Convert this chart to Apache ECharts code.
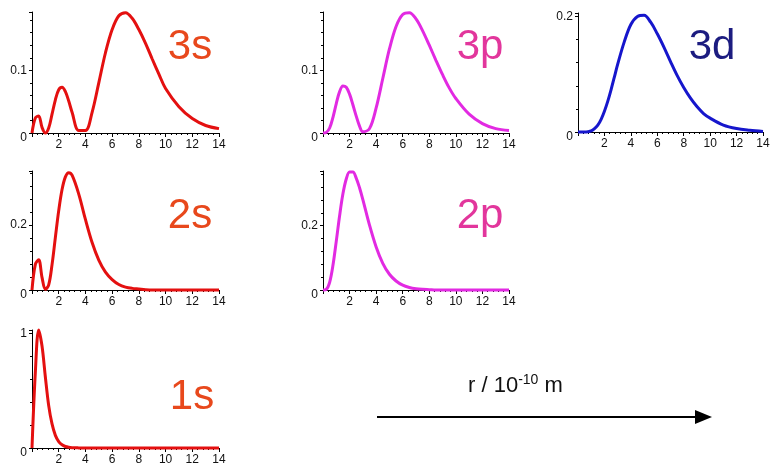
<!DOCTYPE html>
<html>
<head>
<meta charset="utf-8">
<title>Radial distributions</title>
<script src="https://cdn.jsdelivr.net/npm/echarts@6/dist/echarts.min.js"></script>
<style>
  html, body { margin: 0; padding: 0; background: #fff; }
  #chart { width: 773px; height: 467px; }
</style>
</head>
<body>
<div id="chart"></div>
<script>
// r in 10^-10 m
const rVals = [0, 0.25, 0.5, 0.75, 1, 1.25, 1.5, 1.75, 2, 2.25, 2.5, 2.75, 3, 3.5, 4, 4.5, 5, 5.5, 6, 6.5, 7, 7.5, 8, 8.5, 9, 9.5, 10, 11, 12, 13, 14]

// radial probability
const p1s = [0, 0.66, 1.03, 0.89, 0.62, 0.37, 0.21, 0.11, 0.056, 0.028, 0.013, 0.006, 0.003, 0.001, 0, 0, 0, 0, 0, 0, 0, 0, 0, 0, 0, 0, 0, 0, 0, 0, 0]
const p2s = [0, 0.079, 0.093, 0.039, 0.002, 0.016, 0.078, 0.162, 0.244, 0.309, 0.348, 0.361, 0.353, 0.295, 0.217, 0.146, 0.092, 0.055, 0.032, 0.017, 0.009, 0.005, 0.003, 0.001, 0, 0, 0, 0, 0, 0, 0]
const p2p = [0, 0.002, 0.024, 0.077, 0.152, 0.231, 0.299, 0.345, 0.367, 0.367, 0.348, 0.318, 0.281, 0.202, 0.134, 0.083, 0.049, 0.028, 0.015, 0.008, 0.004, 0.002, 0.001, 0, 0, 0, 0, 0, 0, 0, 0]
const p3s = [0, 0.024, 0.027, 0.009, 0, 0.008, 0.030, 0.053, 0.069, 0.073, 0.066, 0.051, 0.033, 0.004, 0.004, 0.033, 0.080, 0.128, 0.165, 0.187, 0.192, 0.183, 0.165, 0.143, 0.118, 0.094, 0.071, 0.042, 0.023, 0.012, 0.007]
const p3p = [0, 0.001, 0.008, 0.025, 0.047, 0.066, 0.075, 0.073, 0.062, 0.045, 0.027, 0.011, 0.002, 0.007, 0.040, 0.087, 0.134, 0.170, 0.189, 0.192, 0.182, 0.163, 0.140, 0.116, 0.093, 0.072, 0.055, 0.030, 0.015, 0.007, 0.004]
const p3d = [0, 0, 0, 0.0005, 0.002, 0.006, 0.012, 0.022, 0.036, 0.053, 0.073, 0.095, 0.117, 0.156, 0.186, 0.200, 0.202, 0.190, 0.170, 0.147, 0.122, 0.098, 0.077, 0.059, 0.044, 0.032, 0.024, 0.012, 0.006, 0.003, 0.001]

const xTicks = [2, 4, 6, 8, 10, 12, 14]

// panel layout (px) + styles
const panels = [
  { name: '3s', data: p3s, left: 32, top: 12, width: 187, height: 121, max: 0.193, step: 0.1, line: '#e41010', text: '#e8481c', tx: 190, ty: 47 },
  { name: '3p', data: p3p, left: 323, top: 12, width: 186, height: 121, max: 0.193, step: 0.1, line: '#e22ae2', text: '#e2369c', tx: 480, ty: 47 },
  { name: '3d', data: p3d, left: 578, top: 13, width: 185, height: 119, max: 0.206, step: 0.2, line: '#1616cc', text: '#1c1c80', tx: 712, ty: 47 },
  { name: '2s', data: p2s, left: 32, top: 171, width: 187, height: 119, max: 0.366, step: 0.2, line: '#e41010', text: '#e8481c', tx: 190, ty: 216 },
  { name: '2p', data: p2p, left: 323, top: 171, width: 186, height: 119, max: 0.37, step: 0.2, line: '#e22ae2', text: '#e2369c', tx: 480, ty: 216 },
  { name: '1s', data: p1s, left: 32, top: 330, width: 187, height: 118, max: 1.03, step: 1, line: '#e41010', text: '#e8481c', tx: 192, ty: 397 }
]

const labelFont = { fontFamily: 'Arial, Liberation Sans, sans-serif', fontSize: 12, color: '#111' }

const option = {
  animation: false,
  backgroundColor: '#fff',
  grid: panels.map(p => ({ left: p.left, top: p.top, width: p.width, height: p.height })),
  xAxis: panels.map((p, i) => ({
    type: 'value',
    gridIndex: i,
    min: 0,
    max: 14,
    interval: 2,
    splitLine: { show: false },
    axisLine: { show: true, lineStyle: { color: '#000', width: 1 } },
    axisTick: { show: true, length: 4, lineStyle: { color: '#000' } },
    minorTick: { show: true, splitNumber: 5, length: 2, lineStyle: { color: '#000' } },
    axisLabel: {
      ...labelFont,
      margin: 6,
      formatter: v => (xTicks.indexOf(v) >= 0 ? String(v) : '')
    }
  })),
  yAxis: panels.map((p, i) => ({
    type: 'value',
    gridIndex: i,
    min: 0,
    max: p.max,
    interval: p.step,
    splitLine: { show: false },
    axisLine: { show: true, lineStyle: { color: '#000', width: 1 } },
    axisTick: { show: true, length: 3, lineStyle: { color: '#000' } },
    minorTick: { show: true, splitNumber: 5, length: 2, lineStyle: { color: '#000' } },
    axisLabel: {
      ...labelFont,
      margin: 5,
      showMaxLabel: false,
      // the "0" sits a bit lower, at the corner
      formatter: v => (v === 0 ? '{z|0}' : String(v)),
      rich: { z: { ...labelFont, padding: [10, 0, 0, 0] } }
    }
  })),
  series: panels.map((p, i) => ({
    name: p.name,
    type: 'line',
    xAxisIndex: i,
    yAxisIndex: i,
    smooth: 0.35,
    showSymbol: false,
    clip: false,
    lineStyle: { color: p.line, width: 3 },
    data: rVals.map((r, k) => [r, p.data[k]])
  })),
  graphic: [
    ...panels.map(p => ({
      type: 'text',
      x: p.tx,
      y: p.ty,
      style: {
        text: p.name,
        fill: p.text,
        font: '42px Arial, "Liberation Sans", sans-serif',
        align: 'center',
        verticalAlign: 'middle'
      }
    })),
    // r axis arrow
    {
      type: 'line',
      shape: { x1: 377, y1: 417, x2: 700, y2: 417 },
      style: { stroke: '#000', lineWidth: 2 }
    },
    {
      type: 'polygon',
      shape: { points: [[695, 410], [712, 417], [695, 424]] },
      style: { fill: '#000' }
    },
    {
      type: 'text',
      x: 468,
      y: 386,
      style: {
        text: 'r / 10{sup|-10} m',
        fill: '#111',
        font: '22px Arial, "Liberation Sans", sans-serif',
        verticalAlign: 'middle',
        rich: {
          sup: { fontSize: 14, fontFamily: 'Arial, Liberation Sans, sans-serif', fill: '#111', padding: [0, 0, 12, 0] }
        }
      }
    }
  ]
}

const myChart = echarts.init(document.getElementById('chart'))
myChart.setOption(option)
</script>
</body>
</html>
